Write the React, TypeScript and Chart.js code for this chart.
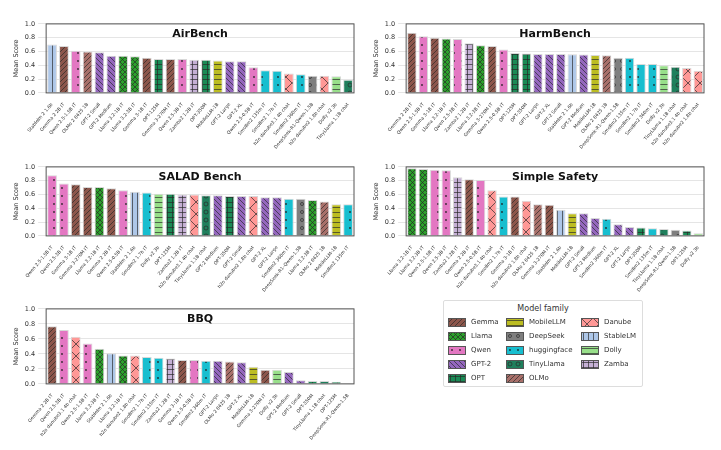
import React, { useEffect, useRef } from "react";
import { Chart, registerables } from "chart.js";
Chart.register(...registerables);

const FAM: Record<string, [string, string]> = {
  Gemma: ["#8c564b", "/"], Llama: ["#2ca02c", "x"], Qwen: ["#e377c2", "."], "GPT-2": ["#9467bd", "\\"],
  OPT: ["#1a8a55", "+"], MobileLLM: ["#bcbd22", "-"], DeepSeek: ["#7f7f7f", "o"], huggingface: ["#17becf", "."],
  TinyLlama: ["#1f7f5c", "O"], OLMo: ["#a8706a", "/"], Danube: ["#ff9896", "X"], StableLM: ["#aec7e8", "|"],
  Dolly: ["#98df8a", "-"], Zamba: ["#c5b0d5", "+"],
};
const LEGEND_ORDER = ["Gemma", "Llama", "Qwen", "GPT-2", "OPT", "MobileLLM", "DeepSeek", "huggingface", "TinyLlama", "OLMo", "Danube", "StableLM", "Dolly", "Zamba"];

function family(n: string): string {
  if (n.startsWith("Gemma")) return "Gemma";
  if (n.startsWith("Llama")) return "Llama";
  if (n.startsWith("Qwen")) return "Qwen";
  if (n.startsWith("GPT-2")) return "GPT-2";
  if (n.startsWith("OPT")) return "OPT";
  if (n.startsWith("Mobile")) return "MobileLLM";
  if (n.startsWith("DeepSeek")) return "DeepSeek";
  if (n.startsWith("Smollm")) return "huggingface";
  if (n.startsWith("TinyLlama")) return "TinyLlama";
  if (n.startsWith("OLMo")) return "OLMo";
  if (n.startsWith("h2o")) return "Danube";
  if (n.startsWith("Stablelm")) return "StableLM";
  if (n.startsWith("Dolly")) return "Dolly";
  return "Zamba";
}

const airLabels = ["Stablelm 2 1.6b", "Gemma 2 2B IT", "Qwen 2.5-1.5B IT", "OLMo 2 0425 1B", "GPT-2 Small", "GPT-2 Medium", "Llama 3.2-1B IT", "Llama 3.2-3B IT", "Gemma 3-1B IT", "OPT-125M", "Gemma 3-270M IT", "Qwen 2.5-3B IT", "Zamba2 1.2B IT", "OPT-350M", "MobileLLM-1B", "GPT-2 Large", "GPT-2 XL", "Qwen 2.5-0.5B IT", "Smollm2 135m IT", "Smollm2 1.7b IT", "h2o danube3.1 4b chat", "Smollm2 360m IT", "DeepSeek-R1-Qwen-1.5B", "h2o danube2 1.8b chat", "Dolly v2 3b", "TinyLlama 1.1B chat"];
const airValues = [0.70, 0.68, 0.61, 0.60, 0.59, 0.54, 0.54, 0.53, 0.51, 0.49, 0.49, 0.49, 0.48, 0.48, 0.47, 0.46, 0.46, 0.37, 0.33, 0.32, 0.28, 0.27, 0.25, 0.25, 0.24, 0.19];

const harmLabels = ["Gemma 2 2B IT", "Qwen 2.5-1.5B IT", "Gemma 3-1B IT", "Llama 3.2-1B IT", "Qwen 2.5-3B IT", "Zamba2 1.2B IT", "Llama 3.2-3B IT", "Gemma 3-270M IT", "Qwen 2.5-0.5B IT", "OPT-125M", "OPT-350M", "GPT-2 Large", "GPT-2 XL", "GPT-2 Small", "Stablelm 2 1.6b", "GPT-2 Medium", "MobileLLM-1B", "OLMo 2 0425 1B", "DeepSeek-R1-Qwen-1.5B", "Smollm2 135m IT", "Smollm2 1.7b IT", "Smollm2 360m IT", "Dolly v2 3b", "TinyLlama 1.1B chat", "h2o danube3.1 4b chat", "h2o danube2 1.8b chat"];
const harmValues = [0.87, 0.82, 0.80, 0.79, 0.78, 0.72, 0.69, 0.68, 0.63, 0.58, 0.57, 0.565, 0.565, 0.565, 0.56, 0.555, 0.55, 0.545, 0.51, 0.51, 0.42, 0.42, 0.40, 0.38, 0.36, 0.32];

const saladLabels = ["Qwen 2.5-1.5B IT", "Qwen 2.5-3B IT", "Gemma 3-1B IT", "Gemma 3-270M IT", "Llama 3.2-1B IT", "Gemma 2 2B IT", "Qwen 2.5-0.5B IT", "Stablelm 2 1.6b", "Smollm2 1.7b IT", "Dolly v2 3b", "OPT-125M", "Zamba2 1.2B IT", "h2o danube3.1 4b chat", "TinyLlama 1.1B chat", "GPT-2 Medium", "OPT-350M", "GPT-2 Small", "h2o danube2 1.8b chat", "GPT-2 XL", "GPT-2 Large", "Smollm2 360m IT", "DeepSeek-R1-Qwen-1.5B", "Llama 3.2-3B IT", "OLMo 2 0425 1B", "MobileLLM-1B", "Smollm2 135m IT"];
const saladValues = [0.88, 0.76, 0.75, 0.71, 0.71, 0.69, 0.66, 0.64, 0.63, 0.61, 0.61, 0.60, 0.60, 0.59, 0.59, 0.58, 0.58, 0.58, 0.56, 0.56, 0.54, 0.54, 0.52, 0.50, 0.46, 0.46];

const safetyLabels = ["Llama 3.2-1B IT", "Llama 3.2-3B IT", "Qwen 2.5-1.5B IT", "Qwen 2.5-3B IT", "Zamba2 1.2B IT", "Gemma 2 2B IT", "Qwen 2.5-0.5B IT", "h2o danube3.1 4b chat", "Smollm2 1.7b IT", "Gemma 3-1B IT", "h2o danube2 1.8b chat", "OLMo 2 0425 1B", "Gemma 3-270M IT", "Stablelm 2 1.6b", "MobileLLM-1B", "GPT-2 Small", "GPT-2 Medium", "Smollm2 360m IT", "GPT-2 XL", "GPT-2 Large", "OPT-350M", "Smollm2 135m IT", "TinyLlama 1.1B chat", "DeepSeek-R1-Qwen-1.5B", "OPT-125M", "Dolly v2 3b"];
const safetyValues = [0.98, 0.97, 0.96, 0.95, 0.85, 0.82, 0.81, 0.66, 0.57, 0.57, 0.51, 0.46, 0.45, 0.38, 0.33, 0.33, 0.26, 0.25, 0.17, 0.13, 0.12, 0.11, 0.10, 0.09, 0.08, 0.04];

const bbqLabels = ["Gemma 2 2B IT", "Qwen 2.5-3B IT", "h2o danube3.1 4b chat", "Qwen 2.5-1.5B IT", "Llama 3.2-3B IT", "Stablelm 2 1.6b", "Llama 3.2-1B IT", "h2o danube2 1.8b chat", "Smollm2 1.7b IT", "Smollm2 135m IT", "Zamba2 1.2B IT", "Gemma 3-1B IT", "Qwen 2.5-0.5B IT", "Smollm2 360m IT", "GPT-2 Large", "OLMo 2 0425 1B", "GPT-2 XL", "MobileLLM-1B", "Gemma 3-270M IT", "Dolly v2 3b", "GPT-2 Medium", "GPT-2 Small", "OPT-350M", "TinyLlama 1.1B chat", "OPT-125M", "DeepSeek-R1-Qwen-1.5B"];
const bbqValues = [0.77, 0.72, 0.63, 0.54, 0.47, 0.41, 0.38, 0.38, 0.36, 0.35, 0.34, 0.32, 0.32, 0.31, 0.31, 0.30, 0.29, 0.23, 0.19, 0.19, 0.16, 0.05, 0.04, 0.04, 0.03, 0.003];

const patCache: Record<string, HTMLCanvasElement> = {};
function patternCanvas(fam: string): HTMLCanvasElement {
  if (patCache[fam]) return patCache[fam];
  const [color, h] = FAM[fam];
  const s = h === "." || h === "o" || h === "O" ? 8 : h === "X" ? 12 : 5;
  const c = document.createElement("canvas");
  c.width = s; c.height = s;
  const g = c.getContext("2d")!;
  g.fillStyle = color; g.fillRect(0, 0, s, s);
  g.strokeStyle = "rgba(40,40,40,0.85)"; g.fillStyle = "rgba(30,30,30,0.9)"; g.lineWidth = 0.8;
  const line = (a: number, b: number, cc: number, d: number) => { g.beginPath(); g.moveTo(a, b); g.lineTo(cc, d); g.stroke(); };
  if (h === "/") { line(-1, s + 1, s + 1, -1); line(-1, 1, 1, -1); line(s - 1, s + 1, s + 1, s - 1); }
  if (h === "\\") { line(-1, -1, s + 1, s + 1); line(s - 1, -1, s + 1, 1); line(-1, s - 1, 1, s + 1); }
  if (h === "x" || h === "X") { line(0, 0, s, s); line(0, s, s, 0); }
  if (h === "+") { line(0, s / 2, s, s / 2); line(s / 2, 0, s / 2, s); }
  if (h === "-") { line(0, s / 2, s, s / 2); }
  if (h === "|") { line(s / 2, 0, s / 2, s); }
  if (h === ".") { g.beginPath(); g.arc(s / 2, s / 2, 0.9, 0, 7); g.fill(); }
  if (h === "o") { g.beginPath(); g.arc(s / 2, s / 2, 1.5, 0, 7); g.stroke(); }
  if (h === "O") { g.beginPath(); g.arc(s / 2, s / 2, 2, 0, 7); g.stroke(); }
  patCache[fam] = c;
  return c;
}

const framePlugin = {
  id: "frame",
  afterDraw(chart: any, _a: any, opts: any) {
    const { ctx, chartArea: a } = chart;
    ctx.save();
    ctx.strokeStyle = "#555"; ctx.lineWidth = 1;
    ctx.strokeRect(a.left, a.top, a.right - a.left, a.bottom - a.top);
    ctx.fillStyle = "#111"; ctx.font = "bold 11px 'DejaVu Sans'";
    ctx.textAlign = "center"; ctx.textBaseline = "top";
    ctx.fillText(opts.title, (a.left + a.right) / 2, a.top + 5);
    ctx.restore();
  },
};

function Panel({ title, labels, values, left, top, w, h }: any) {
  const ref = useRef<HTMLCanvasElement>(null);
  useEffect(() => {
    const ctx = ref.current!.getContext("2d")!;
    const bg = labels.map((l: string) => ctx.createPattern(patternCanvas(family(l)), "repeat"));
    const chart = new Chart(ref.current!, {
      type: "bar",
      data: { labels, datasets: [{ data: values, backgroundColor: bg, borderColor: "#d8d8d8", borderWidth: 1, categoryPercentage: 1, barPercentage: 0.82 }] },
      options: {
        animation: false, responsive: false, maintainAspectRatio: false,
        layout: { padding: { top: 0, right: 6, left: 0, bottom: 0 } },
        plugins: { legend: { display: false }, tooltip: { enabled: false }, frame: { title } } as any,
        scales: {
          x: { grid: { display: false }, border: { display: false }, ticks: { autoSkip: false, minRotation: 50, maxRotation: 50, font: { size: 4.6, family: "DejaVu Sans" }, color: "#333", padding: 1 } },
          y: { min: 0, max: 1, border: { display: false },
            grid: { color: "rgba(0,0,0,0.1)", borderDash: [1, 2] } as any,
            ticks: { stepSize: 0.2, callback: (v: any) => Number(v).toFixed(1), font: { size: 6.5, family: "DejaVu Sans" }, color: "#333" },
            title: { display: true, text: "Mean Score", font: { size: 6.5, family: "DejaVu Sans" }, color: "#333", padding: 2 } },
        },
      },
      plugins: [framePlugin],
    });
    return () => chart.destroy();
  }, []);
  return <canvas ref={ref} width={w} height={h} style={{ position: "absolute", left, top, width: w, height: h }} />;
}

function Swatch({ fam }: { fam: string }) {
  const ref = useRef<HTMLCanvasElement>(null);
  useEffect(() => {
    const g = ref.current!.getContext("2d")!;
    g.fillStyle = g.createPattern(patternCanvas(fam), "repeat")!;
    g.fillRect(0, 0, 18, 9);
    g.strokeStyle = "#555"; g.strokeRect(0.5, 0.5, 17, 8);
  }, []);
  return <canvas ref={ref} width={18} height={9} style={{ width: 18, height: 9, marginRight: 5 }} />;
}

export default function App() {
  const cols = [LEGEND_ORDER.slice(0, 5), LEGEND_ORDER.slice(5, 10), LEGEND_ORDER.slice(10)];
  return (
    <div style={{ position: "relative", width: 721, height: 450, margin: -8, background: "#fff", fontFamily: "DejaVu Sans" }}>
      <Panel title="AirBench" labels={airLabels} values={airValues} left={10} top={17} w={350} h={134} />
      <Panel title="HarmBench" labels={harmLabels} values={harmValues} left={370} top={17} w={340} h={134} />
      <Panel title="SALAD Bench" labels={saladLabels} values={saladValues} left={10} top={160} w={350} h={134} />
      <Panel title="Simple Safety" labels={safetyLabels} values={safetyValues} left={370} top={160} w={340} h={134} />
      <Panel title="BBQ" labels={bbqLabels} values={bbqValues} left={10} top={302} w={350} h={140} />
      <div style={{ position: "absolute", left: 443, top: 300, width: 200, height: 87, border: "1px solid #ddd", borderRadius: 2, background: "#fff", fontSize: 7, color: "#333", boxSizing: "border-box" }}>
        <div style={{ textAlign: "center", fontSize: 8, marginTop: 3, marginBottom: 2 }}>Model family</div>
        <div style={{ display: "flex", paddingLeft: 4 }}>
          {cols.map((c, i) => (
            <div key={i} style={{ width: i === 1 ? 75 : 58 }}>
              {c.map((f) => (
                <div key={f} style={{ display: "flex", alignItems: "center", height: 14 }}><Swatch fam={f} />{f}</div>
              ))}
            </div>
          ))}
        </div>
      </div>
    </div>
  );
}
